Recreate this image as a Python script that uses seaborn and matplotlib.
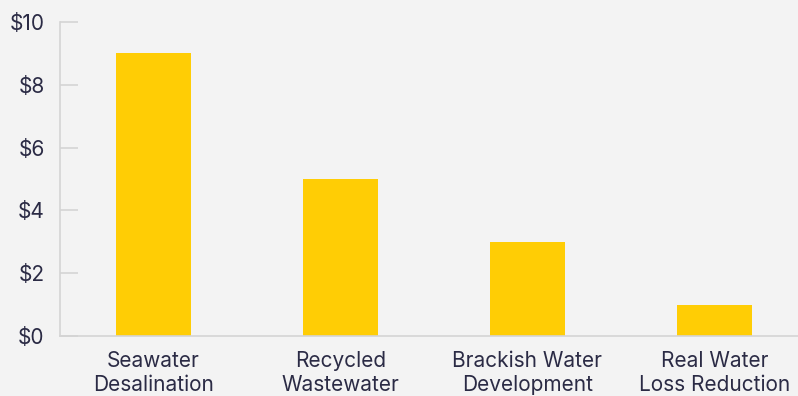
import numpy as np
import pandas as pd
import seaborn as sns
import matplotlib.pyplot as plt

# data
categories = ["Seawater\nDesalination", "Recycled\nWastewater",
              "Brackish Water\nDevelopment", "Real Water\nLoss Reduction"]
cost = [9, 5, 3, 1]
yticks = [0, 2, 4, 6, 8, 10]
ytick_labels = ["$0", "$2", "$4", "$6", "$8", "$10"]

sns.set_theme(style="white")
plt.rcParams["font.family"] = ["Inter", "DejaVu Sans"]

BG = "#f3f3f3"
BAR = "#ffcd05"
TXT = "#2b2b45"
GRID = "#d4d4d4"

df = pd.DataFrame({"category": categories, "cost": cost})

fig = plt.figure(figsize=(7.98, 3.96), dpi=100, facecolor=BG)
ax = fig.add_axes([60 / 798, 60 / 396, 748 / 798, 314 / 396])
ax.set_facecolor(BG)

sns.barplot(data=df, x="category", y="cost", color=BAR, width=0.4,
            saturation=1, linewidth=0, ax=ax)

ax.set_ylim(0, 10)
ax.set_xlim(-0.5, 3.5)
ax.set_yticks(yticks)
ax.set_yticklabels(ytick_labels)
ax.set_xlabel("")
ax.set_ylabel("")

for s in ["top", "right"]:
    ax.spines[s].set_visible(False)
for s in ["left", "bottom"]:
    ax.spines[s].set_color(GRID)
    ax.spines[s].set_linewidth(1.2)

ax.tick_params(axis="y", left=True, direction="in", length=13, width=1.2,
               color=GRID, pad=11, labelsize=15, labelcolor=TXT)
ax.tick_params(axis="x", bottom=False, length=0, pad=11, labelsize=15,
               labelcolor=TXT)
for lbl in ax.get_xticklabels():
    lbl.set_linespacing(1.25)

fig.savefig("out.png", dpi=100, facecolor=BG)
